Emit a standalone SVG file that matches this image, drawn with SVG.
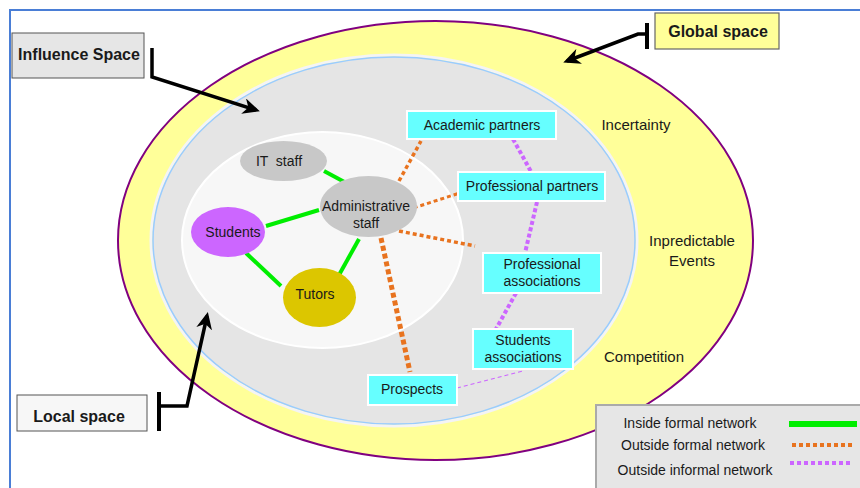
<svg xmlns="http://www.w3.org/2000/svg" width="860" height="488" viewBox="0 0 860 488">
<defs>
<style>
text{font-family:"Liberation Sans",Arial,sans-serif;fill:#1a1a1a;font-size:14px;text-anchor:middle}
.b{font-weight:bold;font-size:16px}
.g{font-size:15px}
.node{fill:#c8c8c8}
.box{fill:#66ffff;stroke:#ffffff;stroke-width:2}
.green{stroke:#00ee00;stroke-width:4;fill:none}
.orange{stroke:#e8731f;stroke-width:3.5;stroke-dasharray:4 3;fill:none}
.purple{stroke:#cc66ff;stroke-width:4;stroke-dasharray:4 2.5;fill:none}
.ptr{stroke:#000;stroke-width:3.5;fill:none;marker-end:url(#ah)}
.bar{stroke:#000;stroke-width:4}
</style>
<marker id="ah" markerWidth="20" markerHeight="16" refX="13" refY="8" orient="auto" markerUnits="userSpaceOnUse">
<path d="M0,0 L17,8 L0,16 L5,8 z" fill="#000"/>
</marker>
</defs>
<rect x="0" y="0" width="860" height="488" fill="#fff"/>
<rect x="10" y="10" width="880" height="500" fill="none" stroke="#4a7ed6" stroke-width="2"/>

<g id="global-space">
<ellipse cx="435.5" cy="240.5" rx="317.5" ry="219.5" fill="#ffff99" stroke="#800080" stroke-width="2"/>
<text class="g" x="636" y="130">Incertainty</text>
<text class="g" x="692" y="246">Inpredictable</text>
<text class="g" x="692" y="266">Events</text>
<text class="g" x="644" y="362">Competition</text>
</g>
<g id="influence-space">
<ellipse cx="394" cy="240.5" rx="243" ry="185.5" fill="none" stroke="#f4f4f4" stroke-width="3"/>
<ellipse cx="394" cy="240.5" rx="241" ry="183.5" fill="#e5e5e5" stroke="#99ccff" stroke-width="1.5"/>
</g>
<g id="local-space">
<ellipse cx="322.5" cy="240" rx="140.5" ry="108" fill="#f7f7f7" stroke="#ffffff" stroke-width="2"/>
</g>

<g id="connectors">
<line class="green" x1="324" y1="171" x2="350" y2="185"/>
<line class="green" x1="266" y1="226" x2="319" y2="210"/>
<line class="green" x1="246" y1="253" x2="281" y2="286"/>
<line class="green" x1="359" y1="239" x2="339" y2="275"/>
<line class="orange" x1="399" y1="181" x2="421" y2="141"/>
<line class="orange" x1="407" y1="210" x2="463" y2="192" style="stroke-width:3"/>
<line class="orange" x1="399" y1="231" x2="475" y2="246"/>
<line class="orange" x1="381" y1="238" x2="410" y2="372" style="stroke-width:5;stroke-dasharray:5 3"/>
<line class="purple" x1="513" y1="139" x2="534" y2="177"/>
<line class="purple" x1="537" y1="202" x2="525" y2="253"/>
<line class="purple" x1="516" y1="293" x2="496" y2="329"/>
<line x1="457" y1="388" x2="523" y2="371" stroke="#cc66ff" stroke-width="1.2" stroke-dasharray="4 3"/>
</g>

<g id="it-staff"><ellipse class="node" cx="283.5" cy="161" rx="43.5" ry="20"/><text x="279" y="166" xml:space="preserve">IT  staff</text></g>
<g id="administrative-staff"><ellipse class="node" cx="368.5" cy="206.5" rx="48.5" ry="30.5"/><text x="366" y="211">Administrative</text><text x="366" y="228">staff</text></g>
<g id="students"><ellipse cx="228" cy="232" rx="37" ry="25" fill="#cc66ff"/><text x="233" y="237">Students</text></g>
<g id="tutors"><ellipse cx="319.5" cy="297.5" rx="36.5" ry="29.5" fill="#dcc600"/><text x="315" y="299">Tutors</text></g>

<g id="academic-partners"><rect class="box" x="407" y="111" width="149" height="28"/><text x="482" y="130">Academic partners</text></g>
<g id="professional-partners"><rect class="box" x="458" y="172" width="147" height="29"/><text x="532" y="191">Professional partners</text></g>
<g id="professional-associations"><rect class="box" x="483" y="253" width="118" height="40"/><text x="542" y="269">Professional</text><text x="542" y="286">associations</text></g>
<g id="students-associations"><rect class="box" x="473" y="329" width="100" height="40"/><text x="523" y="345">Students</text><text x="523" y="362">associations</text></g>
<g id="prospects"><rect class="box" x="368" y="375" width="89" height="30"/><text x="412" y="394">Prospects</text></g>

<g id="influence-label">
<rect x="12" y="33" width="132" height="45" fill="#e6e6e6" stroke="#555" stroke-width="1"/>
<text class="b" x="79" y="60">Influence Space</text>
<path class="ptr" d="M152,48 L152,77 L256,110"/>
</g>
<g id="global-label">
<rect x="655" y="13" width="124" height="36" fill="#ffff99" stroke="#666" stroke-width="1.2"/>
<text class="b" x="718" y="37">Global space</text>
<line class="bar" x1="647" y1="23" x2="647" y2="49"/>
<path class="ptr" d="M647,34 L638,34 L567,61"/>
</g>
<g id="local-label">
<rect x="17" y="395" width="130" height="36" fill="#f7f7f7" stroke="#555" stroke-width="1"/>
<text class="b" x="79" y="422">Local space</text>
<line class="bar" x1="159" y1="392" x2="159" y2="431"/>
<path class="ptr" d="M159,406 L187,406 L207,316"/>
</g>

<g id="legend">
<rect x="596" y="405" width="280" height="90" fill="#e6e6e6" stroke="#aaa" stroke-width="2"/>
<text x="690" y="428">Inside formal network</text>
<text x="693" y="450">Outside formal network</text>
<text x="695" y="475">Outside informal network</text>
<line x1="789" y1="424" x2="857" y2="424" stroke="#00ee00" stroke-width="6"/>
<line x1="792" y1="445" x2="852" y2="445" stroke="#e8731f" stroke-width="4" stroke-dasharray="4 3"/>
<line x1="790" y1="463" x2="850" y2="463" stroke="#cc66ff" stroke-width="4" stroke-dasharray="4 3"/>
</g>
</svg>
